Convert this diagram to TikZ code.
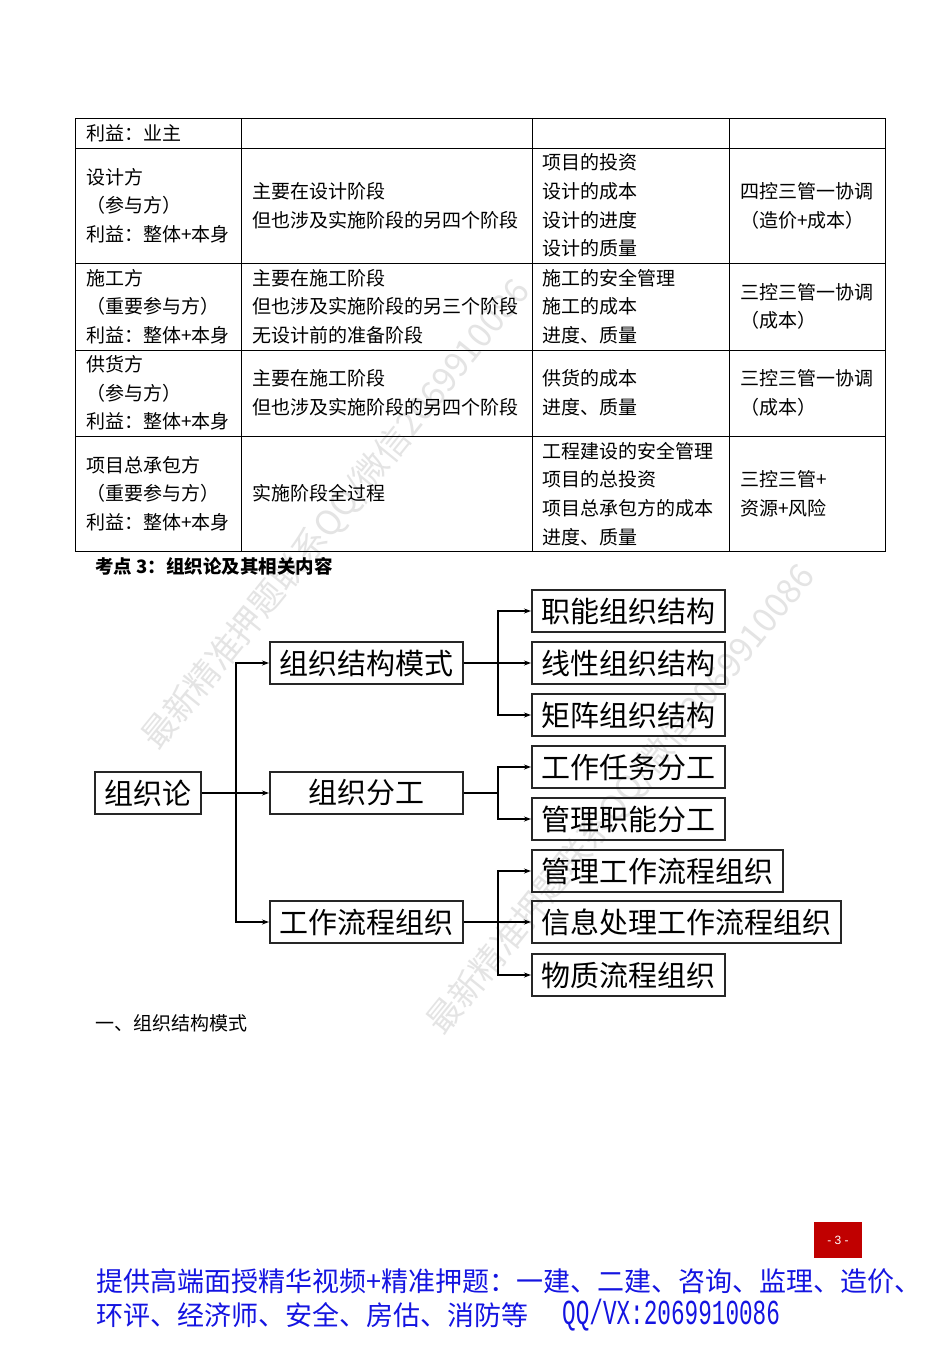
\documentclass[tikz,border=0pt]{standalone}
\usepackage{fontspec}
\setmainfont{Noto Sans CJK SC}
\newfontfamily\monof{Liberation Mono}
\newfontfamily\latinf{Liberation Sans}
\usetikzlibrary{arrows.meta}
\definecolor{pagered}{RGB}{192,0,0}
\definecolor{footblue}{RGB}{20,20,225}
\definecolor{wmgray}{RGB}{228,228,228}
\newcommand\tcell[4]{\node[tc] (#1) at (#2,#3) {#4};}
\begin{document}
\begin{tikzpicture}[x=1pt,y=-1pt,
  tc/.style={anchor=west,inner sep=0pt,font=\fontsize{19}{19}\selectfont},
  grid/.style={line width=0.9pt},
  box/.style={draw=black!85,line width=2pt,inner xsep=9.5pt,inner ysep=0pt,minimum height=42pt,font=\fontsize{29}{29}\selectfont},
  midbox/.style={box,minimum width=193pt},
  rbox/.style={box,anchor=west},
  wire/.style={line width=1.3pt},
  conn/.style={line width=1.3pt,-{Stealth[length=7pt,width=5pt]}},
  wm/.style={text=wmgray,rotate=51,anchor=west,inner sep=0pt,font=\fontsize{34}{34}\selectfont}
]
\useasboundingbox (0,0) rectangle (950,1345);
\fill[white] (0,0) rectangle (950,1345);

% watermarks
\node[wm] (wm1) at (150,745) {最新精准押题联系QQ/微信2069910086};
\node[wm] (wm2) at (435,1030) {最新精准押题联系QQ/微信2069910086};

% table grid
\draw[grid] (75,118) rectangle (885,551);
\foreach \yy in {148,263,350,436} \draw[grid] (75,\yy) -- (885,\yy);
\foreach \xx in {241,532,729} \draw[grid] (\xx,118) -- (\xx,551);

% row 1
\tcell{a1}{86}{133}{利益：业主}
% row 2
\tcell{b1}{86}{177}{设计方}
\tcell{b2}{86}{205}{（参与方）}
\tcell{b3}{86}{234}{利益：整体+本身}
\tcell{b4}{252}{191}{主要在设计阶段}
\tcell{b5}{252}{220}{但也涉及实施阶段的另四个阶段}
\tcell{b6}{542}{162}{项目的投资}
\tcell{b7}{542}{191}{设计的成本}
\tcell{b8}{542}{220}{设计的进度}
\tcell{b9}{542}{248}{设计的质量}
\tcell{b10}{740}{191}{四控三管一协调}
\tcell{b11}{740}{220}{（造价+成本）}
% row 3
\tcell{c1}{86}{278}{施工方}
\tcell{c2}{86}{306}{（重要参与方）}
\tcell{c3}{86}{335}{利益：整体+本身}
\tcell{c4}{252}{278}{主要在施工阶段}
\tcell{c5}{252}{306}{但也涉及实施阶段的另三个阶段}
\tcell{c6}{252}{335}{无设计前的准备阶段}
\tcell{c7}{542}{278}{施工的安全管理}
\tcell{c8}{542}{306}{施工的成本}
\tcell{c9}{542}{335}{进度、质量}
\tcell{c10}{740}{292}{三控三管一协调}
\tcell{c11}{740}{320}{（成本）}
% row 4
\tcell{d1}{86}{364}{供货方}
\tcell{d2}{86}{393}{（参与方）}
\tcell{d3}{86}{421}{利益：整体+本身}
\tcell{d4}{252}{378}{主要在施工阶段}
\tcell{d5}{252}{407}{但也涉及实施阶段的另四个阶段}
\tcell{d6}{542}{378}{供货的成本}
\tcell{d7}{542}{407}{进度、质量}
\tcell{d8}{740}{378}{三控三管一协调}
\tcell{d9}{740}{407}{（成本）}
% row 5
\tcell{e1}{86}{465}{项目总承包方}
\tcell{e2}{86}{493}{（重要参与方）}
\tcell{e3}{86}{522}{利益：整体+本身}
\tcell{e4}{252}{493}{实施阶段全过程}
\tcell{e5}{542}{451}{工程建设的安全管理}
\tcell{e6}{542}{479}{项目的总投资}
\tcell{e7}{542}{508}{项目总承包方的成本}
\tcell{e8}{542}{537}{进度、质量}
\tcell{e9}{740}{479}{三控三管+}
\tcell{e10}{740}{508}{资源+风险}

% heading
\node[tc,font=\fontsize{18.5}{18.5}\selectfont\bfseries] (head) at (95,566) {考点 3：组织论及其相关内容};

% diagram
\node[box] (root) at (147.5,793) {组织论};
\node[midbox] (m1) at (366.5,663) {组织结构模式};
\node[midbox] (m2) at (366.5,793) {组织分工};
\node[midbox] (m3) at (366.5,922) {工作流程组织};
\node[rbox] (r1) at (531,611) {职能组织结构};
\node[rbox] (r2) at (531,663) {线性组织结构};
\node[rbox] (r3) at (531,715) {矩阵组织结构};
\node[rbox] (r4) at (531,767) {工作任务分工};
\node[rbox] (r5) at (531,819) {管理职能分工};
\node[rbox] (r6) at (531,871) {管理工作流程组织};
\node[rbox] (r7) at (531,922) {信息处理工作流程组织};
\node[rbox] (r8) at (531,975) {物质流程组织};

\coordinate (j0) at (236,793);
\coordinate (j1) at (498,663);
\coordinate (j2) at (498,793);
\coordinate (j3) at (498,922);

\draw[conn] (root.east) -- (m2.west);
\draw[conn] (j0) |- (m1.west);
\draw[conn] (j0) |- (m3.west);

\draw[conn] (m1.east) -- (r2.west);
\draw[conn] (j1) |- (r1.west);
\draw[conn] (j1) |- (r3.west);

\draw[wire] (m2.east) -- (j2);
\draw[conn] (j2) |- (r4.west);
\draw[conn] (j2) |- (r5.west);

\draw[conn] (m3.east) -- (r7.west);
\draw[conn] (j3) |- (r6.west);
\draw[conn] (j3) |- (r8.west);

% section title
\node[tc] (sec) at (95,1023) {一、组织结构模式};

% page number
\node[fill=pagered,minimum width=48pt,minimum height=36pt,inner sep=0pt,text=white,font=\latinf\fontsize{12}{12}\selectfont] (pg) at (838,1240) {- 3 -};

% footer
\node[anchor=west,inner sep=0pt,text=footblue,font=\fontsize{27}{27}\selectfont] (f1) at (96,1281) {提供高端面授精华视频+精准押题：一建、二建、咨询、监理、造价、};
\node[anchor=west,inner sep=0pt,text=footblue,font=\fontsize{27}{27}\selectfont] (f2) at (96,1315) {环评、经济师、安全、房估、消防等};
\node[anchor=west,inner sep=0pt,text=footblue,font=\monof\fontsize{27}{27}\selectfont] (f3) at (562,1315) {\scalebox{0.84}[1.3]{QQ/VX:2069910086}};
\end{tikzpicture}
\end{document}
